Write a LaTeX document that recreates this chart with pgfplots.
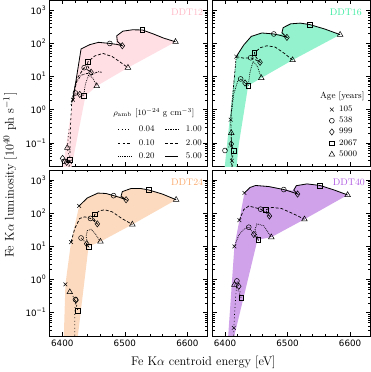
\documentclass[border=0pt]{standalone}
\usepackage{pgfplots}
\pgfplotsset{compat=1.18}
\usepgfplotslibrary{groupplots}
\usepackage{fontspec}
\newfontfamily\dejavu{DejaVu Sans}

\definecolor{f12}{RGB}{255,222,228}
\definecolor{t12}{RGB}{255,182,196}
\definecolor{f16}{RGB}{148,243,206}
\definecolor{t16}{RGB}{60,235,160}
\definecolor{f24}{RGB}{251,218,192}
\definecolor{t24}{RGB}{250,170,110}
\definecolor{f40}{RGB}{208,162,234}
\definecolor{t40}{RGB}{175,90,225}

\tikzset{
  d004/.style={black, line width=0.7pt, dash pattern=on 0.8pt off 2.6pt},
  d010/.style={black, line width=0.7pt, dash pattern=on 2pt off 2.6pt},
  d020/.style={black, line width=0.7pt, dash pattern=on 0.8pt off 1pt},
  d100/.style={black, line width=0.7pt, dash pattern=on 2.2pt off 1pt on 0.6pt off 1pt},
  d200/.style={black, line width=0.7pt, dash pattern=on 3pt off 1.8pt},
  d500/.style={black, line width=0.8pt},
  mk/.style={only marks, mark options={solid, black, line width=0.5pt, fill=none}},
  mX/.style={mk, mark=x, mark size=2.6pt},
  mO/.style={mk, mark=o, mark size=2.4pt},
  mD/.style={mk, mark=diamond, mark size=3.1pt},
  mS/.style={mk, mark=square, mark size=2.3pt},
  mT/.style={mk, mark=triangle, mark size=3.2pt},
  plab/.style={anchor=north east, inner sep=0pt, font=\fontsize{9.4}{11}\selectfont},
}

\begin{document}
\begin{tikzpicture}
\begin{groupplot}[
  group style={group size=2 by 2, horizontal sep=5pt, vertical sep=4pt, group name=G},
  scale only axis, width=155pt, height=163pt,
  ymode=log, xmin=6380, xmax=6632, ymin=0.02, ymax=2000,
  xtick={6400,6500,6600}, minor x tick num=4,
  ytick={0.1,1,10,100,1000},
  minor ytick={0.02,0.03,0.04,0.05,0.06,0.07,0.08,0.09,0.2,0.3,0.4,0.5,0.6,0.7,0.8,0.9,2,3,4,5,6,7,8,9,20,30,40,50,60,70,80,90,200,300,400,500,600,700,800,900,2000},
  tick align=inside, xtick pos=both, ytick pos=both,
  major tick length=4pt, minor tick length=2.2pt,
  axis line style={line width=0.6pt},
  every tick/.style={black, line width=0.5pt},
  tick label style={font=\dejavu\fontsize{8.6}{10}\selectfont},
]

% ---- DDT12
\nextgroupplot[xticklabels={},
  yticklabels={10\textsuperscript{−1},10\textsuperscript{0},10\textsuperscript{1},10\textsuperscript{2},10\textsuperscript{3}},
  legend columns=2,
  legend image code/.code={\draw[#1] (0pt,0pt) -- (13pt,0pt);},
  legend style={draw=none, fill=none, at={(rel axis cs:0.43,0.25)}, anchor=north west,
    font=\fontsize{8.5}{10}\selectfont, row sep=4pt, inner sep=0pt, nodes={inner sep=1pt},
    /tikz/every odd column/.append style={column sep=6pt},
    /tikz/every even column/.append style={column sep=9pt}},
  legend cell align=left]
\addplot[fill=f12, draw=none, forget plot] coordinates {(6399,0.01) (6417,2.0) (6430,68) (6444,92) (6458,108) (6476,100) (6486,96) (6487,170) (6497,235) (6512,258) (6528,255) (6545,195) (6562,145) (6581,112) (6505,18.6) (6455,5.2) (6437,2.6) (6412,0.01)} -- cycle;
\addplot[d500, forget plot] coordinates {(6417,2.0) (6430,68) (6444,92) (6458,108) (6476,100) (6488,93) (6496,85) (6488,115) (6487,170) (6497,235) (6512,258) (6528,255) (6545,195) (6562,145) (6581,112)};
\addplot[d200, forget plot] coordinates {(6416,1.8) (6424,9) (6435,18.6) (6446,13.5) (6440,22) (6441,28) (6452,42) (6465,50) (6480,40) (6493,27) (6505,18.6)};
\addplot[d100, forget plot] coordinates {(6415,1.7) (6421,6) (6430,11) (6440,12.5) (6449,11.5) (6453,13) (6458,14) (6463,13.5)};
\addplot[d020, forget plot] coordinates {(6414,1.4) (6421,3.2) (6428,2.9) (6434,2.6) (6437,6) (6442,11) (6449,9) (6455,5.2)};
\addplot[d010, forget plot] coordinates {(6409,0.01) (6412,0.03) (6413,0.3) (6415,1.5)};
\addplot[d004, forget plot] coordinates {(6412,0.027) (6403,0.028) (6400.5,0.034) (6407,0.026) (6412,0.031) (6408,0.071) (6411,0.3)};
\addplot[mX, forget plot] coordinates {(6417,2.0) (6412,0.027)};
\addplot[mO, forget plot] coordinates {(6476,100) (6435,18.6) (6421,3.2) (6403,0.028)};
\addplot[mD, forget plot] coordinates {(6496,85) (6446,13.5) (6428,2.9) (6400.5,0.034) (6407,0.026)};
\addplot[mS, forget plot] coordinates {(6528,255) (6441,28) (6434,2.6) (6412,0.031)};
\addplot[mT, forget plot] coordinates {(6581,112) (6505,18.6) (6455,5.2) (6408,0.071)};
\addlegendimage{d004}\addlegendentry{0.04}
\addlegendimage{d100}\addlegendentry{1.00}
\addlegendimage{d010}\addlegendentry{0.10}
\addlegendimage{d200}\addlegendentry{2.00}
\addlegendimage{d020}\addlegendentry{0.20}
\addlegendimage{d500}\addlegendentry{5.00}
\node[font=\fontsize{8.5}{10}\selectfont] at (rel axis cs:0.66,0.32) {$\rho_{\rm amb}$ [$10^{-24}$ g cm$^{-3}$]};
\node[plab, text=t12] at ([xshift=-4pt,yshift=-8pt]rel axis cs:1,1) {DDT12};

% ---- DDT16
\nextgroupplot[xticklabels={}, yticklabels={},
  legend image code/.code={\draw[#1] plot coordinates {(0pt,0pt)};},
  legend style={draw=none, fill=none, at={(rel axis cs:0.738,0.37)}, anchor=north west,
    font=\fontsize{8.3}{10}\selectfont, row sep=2pt, inner sep=0pt, nodes={inner sep=1pt},
    /tikz/every odd column/.append style={column sep=3.5pt}},
  legend cell align=left]
\addplot[fill=f16, draw=none, forget plot] coordinates {(6398,0.01) (6418,40) (6430,90) (6442,163) (6459,207) (6478,193) (6490,190) (6493,300) (6505,390) (6520,410) (6535,373) (6560,270) (6584,184) (6508,31.6) (6458,9.1) (6437,5.3) (6422,0.09) (6417,0.01)} -- cycle;
\addplot[d500, forget plot] coordinates {(6418,40) (6430,90) (6442,163) (6459,207) (6478,193) (6490,172) (6499,152) (6491,210) (6493,300) (6505,390) (6520,410) (6535,373) (6560,270) (6584,184)};
\addplot[d200, forget plot] coordinates {(6418,40) (6430,36) (6441,37) (6452,30) (6456,27) (6449,40) (6447,53) (6457,75) (6467,85) (6480,78) (6495,50) (6508,31.6)};
\addplot[d020, forget plot] coordinates {(6409,0.5) (6414,3) (6420,7) (6425,8.5) (6432,6.4) (6437,5.3) (6440,14) (6445,29) (6452,20) (6458,9.1)};
\addplot[d100, forget plot] coordinates {(6411,0.015) (6410,0.2) (6409,0.5) (6414,6) (6418,40)};
\addplot[d010, forget plot] coordinates {(6413,0.01) (6411,0.029) (6414,0.059) (6410,0.093) (6410,0.2)};
\addplot[d004, forget plot] coordinates {(6410,0.093) (6405,0.07) (6400,0.059)};
\addplot[mX, forget plot] coordinates {(6418,40) (6409,0.5) (6411,0.029)};
\addplot[mO, forget plot] coordinates {(6478,193) (6441,37) (6425,8.5) (6400,0.059)};
\addplot[mD, forget plot] coordinates {(6499,152) (6456,27) (6432,6.4) (6410,0.093)};
\addplot[mS, forget plot] coordinates {(6535,373) (6447,53) (6437,5.3) (6414,0.059)};
\addplot[mT, forget plot] coordinates {(6584,184) (6508,31.6) (6458,9.1) (6410,0.2)};
\addlegendimage{mX}\addlegendentry{105}
\addlegendimage{mO}\addlegendentry{538}
\addlegendimage{mD}\addlegendentry{999}
\addlegendimage{mS}\addlegendentry{2067}
\addlegendimage{mT}\addlegendentry{5000}
\node[font=\fontsize{8.8}{10}\selectfont] at (rel axis cs:0.823,0.423) {Age [years]};
\node[plab, text=t16] at ([xshift=-8pt,yshift=-8pt]rel axis cs:1,1) {DDT16};

% ---- DDT24
\nextgroupplot[xticklabels={6400,6500,6600},
  yticklabels={10\textsuperscript{−1},10\textsuperscript{0},10\textsuperscript{1},10\textsuperscript{2},10\textsuperscript{3}}]
\addplot[fill=f24, draw=none, forget plot] coordinates {(6402,0.01) (6405,0.72) (6414,13.5) (6427,167) (6440,290) (6457,407) (6470,395) (6482,340) (6493,320) (6496,450) (6510,560) (6525,560) (6538,506) (6560,380) (6582,256) (6512,46) (6461,14) (6442,10) (6423,0.01)} -- cycle;
\addplot[d500, forget plot] coordinates {(6427,167) (6440,290) (6457,407) (6470,395) (6482,340) (6492,300) (6502,256) (6494,330) (6496,450) (6510,560) (6525,560) (6538,506) (6560,380) (6582,256)};
\addplot[d200, forget plot] coordinates {(6414,13.5) (6420,35) (6428,70) (6436,78) (6445,70) (6452,56) (6456,48) (6450,70) (6452,93) (6460,120) (6468,127) (6480,110) (6495,70) (6512,46)};
\addplot[d020, forget plot] coordinates {(6430,18) (6436,14) (6439,12) (6442,10) (6438,20) (6440,30) (6446,33) (6452,25) (6461,14)};
\addplot[d004, forget plot] coordinates {(6420,0.01) (6420,0.1) (6421,0.25) (6425,0.115) (6418,0.3) (6412,0.42)};
\addplot[mX, forget plot] coordinates {(6427,167) (6414,13.5) (6405,0.72)};
\addplot[mO, forget plot] coordinates {(6482,340) (6445,70) (6430,18) (6421,0.25)};
\addplot[mD, forget plot] coordinates {(6502,256) (6456,48) (6439,12) (6422,0.24)};
\addplot[mS, forget plot] coordinates {(6538,506) (6452,93) (6442,10) (6425,0.115)};
\addplot[mT, forget plot] coordinates {(6582,256) (6512,46) (6461,14) (6412,0.42)};
\node[plab, text=t24] at ([xshift=-4pt,yshift=-8pt]rel axis cs:1,1) {DDT24};

% ---- DDT40
\nextgroupplot[xticklabels={6400,6500,6600}, yticklabels={}]
\addplot[fill=f40, draw=none, forget plot] coordinates {(6404,0.01) (6415,10) (6423,62) (6431,410) (6440,600) (6449,690) (6470,640) (6494,520) (6508,480) (6514,680) (6531,770) (6552,690) (6575,500) (6596,357) (6527,66) (6474,19) (6452,16) (6411,0.01)} -- cycle;
\addplot[d500, forget plot] coordinates {(6431,410) (6440,600) (6449,690) (6470,640) (6494,520) (6505,450) (6516,380) (6510,500) (6514,680) (6531,770) (6552,690) (6575,500) (6596,357)};
\addplot[d200, forget plot] coordinates {(6423,62) (6430,130) (6438,165) (6447,150) (6457,133) (6465,105) (6471,83) (6467,110) (6465,127) (6475,150) (6490,140) (6510,95) (6527,66)};
\addplot[d020, forget plot] coordinates {(6415,10) (6422,22) (6430,33) (6438,38) (6442,30) (6446,23) (6453,16) (6448,32) (6451,48) (6462,42) (6474,19)};
\addplot[d004, forget plot] coordinates {(6414,0.01) (6414,0.035) (6417,0.3) (6419,0.91) (6422,0.63) (6426,0.28) (6420,0.5) (6415,0.7)};
\addplot[mX, forget plot] coordinates {(6431,410) (6423,62) (6415,10) (6414,0.035)};
\addplot[mO, forget plot] coordinates {(6494,520) (6457,133) (6438,38) (6419,0.91)};
\addplot[mD, forget plot] coordinates {(6516,380) (6471,83) (6446,23) (6422,0.63)};
\addplot[mS, forget plot] coordinates {(6552,690) (6465,127) (6453,16) (6426,0.28)};
\addplot[mT, forget plot] coordinates {(6596,357) (6527,66) (6474,19) (6415,0.7)};
\node[plab, text=t40] at ([xshift=-5pt,yshift=-8pt]rel axis cs:1,1) {DDT40};
\end{groupplot}

\node[rotate=90, font=\fontsize{12.3}{14}\selectfont] at ([xshift=-39pt,yshift=-5pt]G c1r2.north west) {Fe K$\alpha$ luminosity [$10^{40}$ ph s$^{-1}$]};
\node[font=\fontsize{12.3}{14}\selectfont] at ([xshift=-4pt,yshift=-26pt]G c1r2.south east) {Fe K$\alpha$ centroid energy [eV]};
\end{tikzpicture}
\end{document}
